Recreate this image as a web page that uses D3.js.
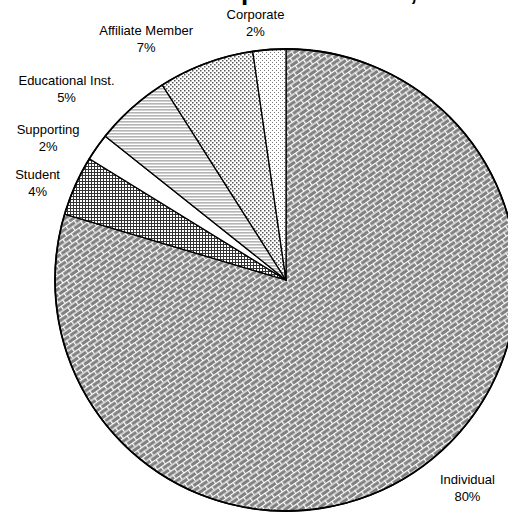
<!DOCTYPE html>
<html><head><meta charset="utf-8">
<script src="https://cdn.jsdelivr.net/npm/d3@7"></script>
<style>html,body{margin:0;padding:0;background:#fff;}svg{display:block;}</style>
</head><body>
<svg id="chart" width="508" height="513"></svg>
<script>
const categories = ["Individual", "Student", "Supporting", "Educational Inst.", "Affiliate Member", "Corporate"];
const shares = [79.6, 4.2, 1.9, 5.3, 6.7, 2.3];
const percentLabels = ["80%", "4%", "2%", "5%", "7%", "2%"];
const titleText = "Membership Distribution, 2004";

const W = 508, H = 513;
const cx = 286, cy = 280, R = 231;
const svg = d3.select("#chart");
const defs = svg.append("defs");

function pat(id, w, h, transform) {
  const p = defs.append("pattern").attr("id", id).attr("patternUnits", "userSpaceOnUse")
    .attr("width", w).attr("height", h);
  if (transform) p.attr("patternTransform", transform);
  return p;
}
// diagonal brick
{
  const p = pat("pBrick", 10, 9, "rotate(-35)");
  p.append("rect").attr("width", 10).attr("height", 9).attr("fill", "#808080");
  p.append("rect").attr("x", 0).attr("y", 0).attr("width", 10).attr("height", 1.2).attr("fill", "#fff");
  p.append("rect").attr("x", 0).attr("y", 4.5).attr("width", 10).attr("height", 1.2).attr("fill", "#fff");
  p.append("rect").attr("x", 0).attr("y", 0).attr("width", 1.2).attr("height", 4.5).attr("fill", "#fff");
  p.append("rect").attr("x", 5).attr("y", 4.5).attr("width", 1.2).attr("height", 4.5).attr("fill", "#fff");
}
// grid
{
  const p = pat("pGrid", 3, 3);
  p.append("rect").attr("width", 3).attr("height", 3).attr("fill", "#fff");
  p.append("rect").attr("width", 3).attr("height", 1).attr("fill", "#333");
  p.append("rect").attr("width", 1).attr("height", 3).attr("fill", "#333");
}
// horizontal stripes
{
  const p = pat("pHoriz", 4, 3);
  p.append("rect").attr("width", 4).attr("height", 3).attr("fill", "#fff");
  p.append("rect").attr("width", 4).attr("height", 1.6).attr("fill", "#b4b4b4");
}
// medium dots
{
  const p = pat("pDots", 4, 4);
  p.append("rect").attr("width", 4).attr("height", 4).attr("fill", "#fff");
  p.append("rect").attr("x", 0).attr("y", 0).attr("width", 1.5).attr("height", 1.5).attr("fill", "#555");
  p.append("rect").attr("x", 2).attr("y", 2).attr("width", 1.5).attr("height", 1.5).attr("fill", "#555");
}
// light dots
{
  const p = pat("pLight", 4, 4);
  p.append("rect").attr("width", 4).attr("height", 4).attr("fill", "#fff");
  p.append("rect").attr("x", 0).attr("y", 0).attr("width", 1).attr("height", 1).attr("fill", "#777");
  p.append("rect").attr("x", 2).attr("y", 2).attr("width", 1).attr("height", 1).attr("fill", "#777");
}
const fills = ["url(#pBrick)", "url(#pGrid)", "#fff", "url(#pHoriz)", "url(#pDots)", "url(#pLight)"];

const data = categories.map((c, i) => ({ name: c, value: shares[i], pct: percentLabels[i], fill: fills[i] }));
const pie = d3.pie().sort(null).value(d => d.value).startAngle(0).endAngle(2 * Math.PI);
const arcs = pie(data);
const arc = d3.arc().innerRadius(0).outerRadius(R);

const g = svg.append("g").attr("transform", `translate(${cx},${cy})`);
g.selectAll("path.slice").data(arcs).enter().append("path")
  .attr("class", "slice")
  .attr("d", arc)
  .attr("fill", d => d.data.fill)
  .attr("stroke", "#000").attr("stroke-width", 1.3).attr("stroke-linejoin", "round");
g.append("circle").attr("r", R).attr("fill", "none").attr("stroke", "#000").attr("stroke-width", 1.8);

// labels: anchored on mid-angle at radius, with layout nudges
const labelR = 270;
const labelNudge = [[20, -12], [-2, 9], [-17, 9], [-39, 6], [-46, 8], [-11, 8]];
const lab = svg.append("g").attr("font-family", "'Liberation Sans', Arial, sans-serif")
  .attr("font-size", 13).attr("fill", "#000").attr("text-anchor", "middle");
arcs.forEach((d, i) => {
  const a = (d.startAngle + d.endAngle) / 2;
  const x = cx + labelR * Math.sin(a) + labelNudge[i][0];
  const y = cy - labelR * Math.cos(a) + labelNudge[i][1];
  const t = lab.append("text").attr("x", x).attr("y", y);
  t.append("tspan").attr("x", x).attr("dy", 0).text(d.data.name);
  t.append("tspan").attr("x", x).attr("dy", 17).text(d.data.pct);
});

// title: sits above the visible area, only descenders show
const title = svg.append("text").attr("font-family", "'Liberation Sans', Arial, sans-serif")
  .attr("font-weight", "bold").attr("font-size", 26).attr("x", 0).attr("y", 0).text(titleText);
let px = 0;
try { px = title.node().getStartPositionOfChar(titleText.indexOf("p")).x; } catch (e) { px = 160; }
if (!isFinite(px) || px < 0 || px > 400) px = 160;
title.attr("x", 241 - px);
</script>
</body></html>
